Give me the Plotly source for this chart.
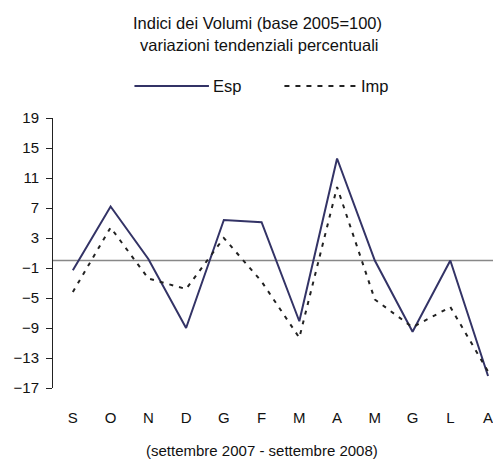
import plotly.graph_objects as go

# mesi (settembre 2007 - agosto 2008)
mesi = ['S', 'O', 'N', 'D', 'G', 'F', 'M', 'A', 'M', 'G', 'L', 'A']
esp = [-1.3, 7.2, 0.2, -9.0, 5.4, 5.1, -8.1, 13.6, 0.0, -9.5, 0.0, -15.4]
imp = [-4.2, 4.4, -2.4, -3.8, 3.0, -2.8, -10.3, 9.8, -5.2, -8.9, -6.2, -14.8]
y_ticks = [19, 15, 11, 7, 3, -1, -5, -9, -13, -17]

FONT = 'Liberation Sans, Arial, sans-serif'
NAVY = '#333366'
DOTS = '4px,6px'

# la pagina aggiunge 8px di margine al body
W, H = 493, 453
L, R, T, B = 42, 6, 110, 73
PW, PH = W - L - R, H - T - B


def px(xp):
    return (xp - 8 - L) / PW


def py(yp):
    return 1 - (yp - 8 - T) / PH


x = list(range(len(mesi)))

fig = go.Figure()
fig.add_trace(go.Scatter(
    x=x, y=esp, mode='lines', name='Esp',
    line=dict(color=NAVY, width=2)
))
fig.add_trace(go.Scatter(
    x=x, y=imp, mode='lines', name='Imp',
    line=dict(color='#222222', width=2, dash=DOTS)
))

# linea dello zero
fig.add_shape(type='line', xref='paper', x0=0, x1=px(501), yref='y', y0=0, y1=0,
              line=dict(color='#888888', width=1.5), layer='below')

# legenda disegnata a mano
fig.add_shape(type='line', xref='paper', yref='paper', x0=px(132), x1=px(207),
              y0=py(86), y1=py(86), line=dict(color=NAVY, width=2))
fig.add_shape(type='line', xref='paper', yref='paper', x0=px(283), x1=px(355),
              y0=py(86), y1=py(86), line=dict(color='#222222', width=2, dash='5px,6px'))
fig.add_annotation(text='Esp', xref='paper', yref='paper', x=px(209), y=py(86),
                   xanchor='left', yanchor='middle', showarrow=False, font=dict(size=16.5))
fig.add_annotation(text='Imp', xref='paper', yref='paper', x=px(358), y=py(86),
                   xanchor='left', yanchor='middle', showarrow=False, font=dict(size=16.5))

# titolo
fig.add_annotation(text='Indici dei Volumi (base 2005=100)',
                   xref='paper', yref='paper', x=px(256), y=py(23),
                   xanchor='center', yanchor='middle', showarrow=False, font=dict(size=16.5))
fig.add_annotation(text='variazioni tendenziali percentuali',
                   xref='paper', yref='paper', x=px(257), y=py(45),
                   xanchor='center', yanchor='middle', showarrow=False, font=dict(size=16.5))
fig.add_annotation(text='(settembre 2007 - settembre 2008)',
                   xref='paper', yref='paper', x=px(260), y=py(450),
                   xanchor='center', yanchor='middle', showarrow=False)

fig.update_layout(
    width=W, height=H,
    margin=dict(l=L, r=R, t=T, b=B),
    paper_bgcolor='white', plot_bgcolor='white',
    showlegend=False,
    font=dict(family=FONT, size=15, color='#111111'),
    xaxis=dict(
        range=[-0.526, 11.184], tickvals=x, ticktext=mesi,
        showgrid=False, zeroline=False, showline=False, ticks='',
        ticklabelstandoff=19, fixedrange=True
    ),
    yaxis=dict(
        range=[-17, 19], tickvals=y_ticks,
        showgrid=False, zeroline=False, showline=True, linecolor='#222222', linewidth=1,
        ticks='outside', ticklen=6, tickcolor='#222222', ticklabelstandoff=4,
        fixedrange=True
    ),
)

fig.write_html("out.html")
